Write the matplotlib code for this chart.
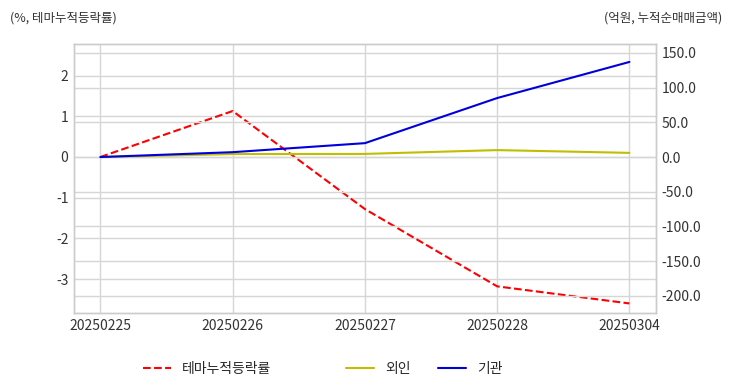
import matplotlib
matplotlib.use("Agg")
import matplotlib.pyplot as plt

plt.style.use("seaborn-v0_8-whitegrid")
plt.rcParams['font.family'] = ['Noto Sans CJK KR', 'DejaVu Sans']
plt.rcParams['axes.unicode_minus'] = False

dates = ['20250225', '20250226', '20250227', '20250228', '20250304']
theme = [0.0, 1.13, -1.28, -3.18, -3.60]      # 테마누적등락률 (%)
foreign = [0.0, 4.3, 4.5, 10.0, 6.0]          # 외인 (억원)
inst = [0.0, 7.0, 20.0, 85.0, 137.0]          # 기관 (억원)

fig = plt.figure(figsize=(7.32, 3.92), dpi=100)
ax1 = fig.add_axes([0.101, 0.201, 0.795, 0.687])
ax2 = ax1.twinx()

x = list(range(len(dates)))
ax1.plot(x, theme, color='red', linestyle='--', linewidth=1.5, label='테마누적등락률')
ax2.plot(x, foreign, color='#bfbf00', linewidth=1.5, label='외인')
ax2.plot(x, inst, color='#0000dd', linewidth=1.5, label='기관')

ax1.set_xlim(-0.2, 4.2)
ax1.set_ylim(-3.84, 2.78)
ax2.set_ylim(-225, 163)
ax1.set_xticks(x)
ax1.set_xticklabels(dates)
ax1.set_yticks([-3, -2, -1, 0, 1, 2])
ax2.set_yticks([-200, -150, -100, -50, 0, 50, 100, 150])
ax2.set_yticklabels([f'{v:.1f}' for v in [-200, -150, -100, -50, 0, 50, 100, 150]])

for ax in (ax1, ax2):
    ax.grid(True, color='#d6d6d6', linewidth=1)
    ax.tick_params(labelsize=10, colors='#333333', length=0, pad=4)
    for s in ax.spines.values():
        s.set_visible(True)
        s.set_color('#cccccc')
        s.set_linewidth(1)
ax2.grid(True, axis='y')
ax2.grid(False, axis='x')

fig.text(0.013, 0.955, '(%, 테마누적등락률)', fontsize=9, color='#333333', ha='left', va='center')
fig.text(0.987, 0.955, '(억원, 누적순매매금액)', fontsize=9, color='#333333', ha='right', va='center')

h1, l1 = ax1.get_legend_handles_labels()
h2, l2 = ax2.get_legend_handles_labels()
fig.legend(h1, l1, loc='center', bbox_to_anchor=(0.283, 0.058), frameon=False, fontsize=10,
           handlelength=2.0)
fig.legend(h2, l2, loc='center', bbox_to_anchor=(0.58, 0.058), ncol=2, frameon=False, fontsize=10,
           handlelength=2.0, columnspacing=2.0)

fig.savefig('out.png', dpi=100)
